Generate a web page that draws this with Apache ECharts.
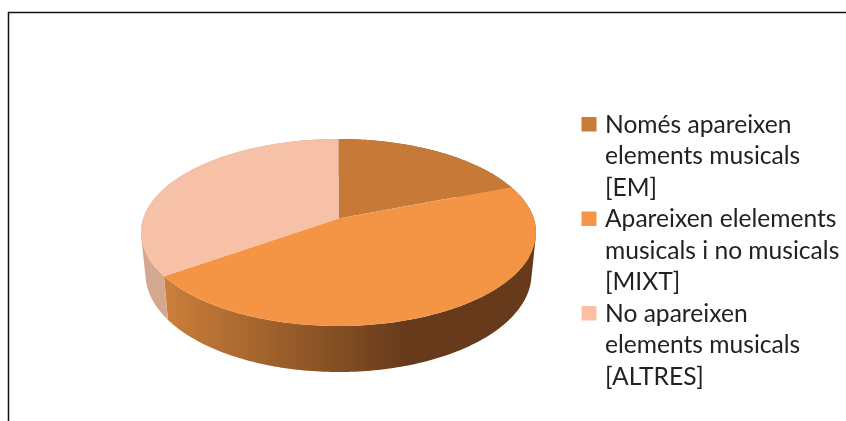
<!DOCTYPE html>
<html>
<head>
<meta charset="utf-8">
<style>html,body{margin:0;padding:0;background:#fff}#c{width:846px;height:421px}</style>
<script src="https://cdn.jsdelivr.net/npm/echarts@6/dist/echarts.min.js"></script>
</head>
<body>
<div id="c"></div>
<script>
const categories = [
  "Només apareixen\nelements musicals\n[EM]",
  "Apareixen elelements\nmusicals i no musicals\n[MIXT]",
  "No apareixen\nelements musicals\n[ALTRES]"
];
const shares = [19.1, 46.1, 34.8];
const topColors = ["#c77a37", "#f49445", "#f6c1a6"];
const wallColors = ["#8a5022", null, "#d4a78f"];
const legendColors = ["#c97b38", "#f79646", "#fbc0a4"];

const TOP = {cx: 338.5, cy: 232.5, rx: 197.5, ry: 93.5};
const BOTTOM = {cx: 338.5, cy: 274, rx: 193, ry: 98};
const K = -0.15;
const total = shares.reduce((a, b) => a + b, 0);

function project(deg, e) {
  const t = deg * Math.PI / 180, u = Math.sin(t), v = -Math.cos(t), d = 1 + K * v;
  return [e.cx + e.rx * u * Math.sqrt(1 - K * K) / d, e.cy + e.ry * (v + K) / d];
}
function arc(a0, a1, e) {
  const pts = [], n = Math.max(2, Math.ceil(Math.abs(a1 - a0)));
  for (let i = 0; i <= n; i++) pts.push(project(a0 + (a1 - a0) * i / n, e));
  return pts;
}
// One path made of quads between the rims, all wound the same way, so that the
// outline follows the tangent between the rims and no seams appear inside it.
function wallShape(a0, a1) {
  const parts = [];
  let minX = Infinity, minY = Infinity, maxX = -Infinity, maxY = -Infinity;
  for (let a = a0; a < a1; a += 1) {
    const b = Math.min(a + 1, a1);
    const q = [project(a, TOP), project(b, TOP), project(b, BOTTOM), project(a, BOTTOM)];
    let area = 0;
    q.forEach((p, i) => { const r = q[(i + 1) % 4]; area += p[0] * r[1] - r[0] * p[1]; });
    if (area < 0) q.reverse();
    q.forEach((p) => {
      minX = Math.min(minX, p[0]); maxX = Math.max(maxX, p[0]);
      minY = Math.min(minY, p[1]); maxY = Math.max(maxY, p[1]);
    });
    parts.push("M" + q.map((p) => p[0].toFixed(3) + " " + p[1].toFixed(3)).join("L") + "Z");
  }
  return {pathData: parts.join(""), layout: "cover", x: minX, y: minY, width: maxX - minX, height: maxY - minY};
}
function renderSlice(idx) {
  return function (params, api) {
    const before = shares.slice(0, idx).reduce((a, b) => a + b, 0);
    const a0 = before / total * 360, a1 = a0 + api.value(0) / total * 360;
    const apex = [TOP.cx, TOP.cy + TOP.ry * K];
    const wallFill = wallColors[idx] || new echarts.graphic.LinearGradient(
      166, 0, 407, 0, [{offset: 0, color: "#cb7f3a"}, {offset: 1, color: "#663a1a"}], true);
    return {
      type: "group",
      children: [
        {type: "path", z2: 1, shape: wallShape(a0, a1), style: {fill: wallFill}},
        {type: "polygon", z2: 10, shape: {points: [apex].concat(arc(a0, a1, TOP))},
         style: {fill: topColors[idx]}}
      ]
    };
  };
}
const legendIcon = "path://M0 0L19 94.5M0.5 8H15.5V22.5H0.5Z";
const chart = echarts.init(document.getElementById("c"), null, {renderer: "canvas"});
chart.setOption({
  animation: false,
  backgroundColor: "#fff",
  legend: {
    orient: "vertical", left: 581, top: 109, itemGap: 0, padding: 0,
    itemWidth: 19, itemHeight: 94.5, symbolKeepAspect: false, selectedMode: false,
    icon: legendIcon,
    textStyle: {fontFamily: "Lato", fontSize: 24.6, lineHeight: 31.5, color: "#222"},
    data: categories.map((name) => ({name, icon: legendIcon}))
  },
  graphic: [{
    type: "polyline", silent: true,
    shape: {points: [[8.5, 421], [8.5, 12.5], [846, 12.5]]},
    style: {fill: null, stroke: "#111", lineWidth: 1.5}
  }],
  series: categories.map((name, i) => ({
    type: "custom", name, coordinateSystem: "none", silent: true,
    itemStyle: {color: legendColors[i]},
    renderItem: renderSlice(i),
    encode: {value: 0},
    data: [[shares[i]]]
  }))
});
</script>
</body>
</html>
